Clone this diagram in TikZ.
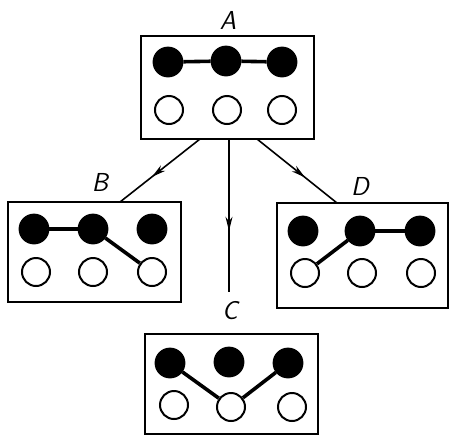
\documentclass[tikz,border=0pt]{standalone}
\usetikzlibrary{arrows.meta,decorations.markings}
\begin{document}
\begin{tikzpicture}[x=1pt,y=-1pt,
  panel/.style={draw,line width=2.2pt,rectangle,inner sep=0pt},
  full/.style={circle,draw,fill=black,line width=1.8pt,minimum size=29pt,inner sep=0pt},
  empty/.style={circle,draw,fill=white,line width=2pt,minimum size=28pt,inner sep=0pt},
  bond/.style={line width=3.6pt},
  tag/.style={font=\fontsize{26}{26}\selectfont\sffamily\itshape},
  flow/.style={line width=1.6pt,postaction={decorate},
    decoration={markings,mark=at position 0.6 with {\arrow{Stealth[length=14pt,width=7pt]}}}}]
\useasboundingbox (0,0) rectangle (452,437);
% panels
\node[panel,minimum width=173pt,minimum height=103pt] (A) at (227.5,87.5) {};
\node[panel,minimum width=173pt,minimum height=100pt] (B) at (94.5,252) {};
\node[panel,minimum width=171pt,minimum height=105pt] (D) at (362.5,255.5) {};
\node[panel,minimum width=173pt,minimum height=100pt] (C) at (231.5,384) {};
% labels
\node[tag] (lA) at (228,20) {A};
\node[tag] (lB) at (100,182) {B};
\node[tag] (lC) at (230,311) {C};
\node[tag] (lD) at (360,186) {D};
% A
\node[full] (a1) at (168,62) {};
\node[full] (a2) at (226,61) {};
\node[full] (a3) at (282,62) {};
\node[empty] (a4) at (169,110) {};
\node[empty] (a5) at (227,110) {};
\node[empty] (a6) at (282,110) {};
\draw[bond] (a1) -- (a2) -- (a3);
% B
\node[full] (b1) at (34,229) {};
\node[full] (b2) at (93,229) {};
\node[full] (b3) at (152,229) {};
\node[empty] (b4) at (36,272) {};
\node[empty] (b5) at (93,272) {};
\node[empty] (b6) at (152,272) {};
\draw[bond] (b1) -- (b2);
\draw[bond] (b2) -- (b6);
% D
\node[full] (d1) at (303,231) {};
\node[full] (d2) at (360,231) {};
\node[full] (d3) at (420,231) {};
\node[empty] (d4) at (305,273) {};
\node[empty] (d5) at (362,273) {};
\node[empty] (d6) at (421,273) {};
\draw[bond] (d4) -- (d2);
\draw[bond] (d2) -- (d3);
% C
\node[full] (c1) at (170,363) {};
\node[full] (c2) at (229,362) {};
\node[full] (c3) at (288,363) {};
\node[empty] (c4) at (174,405) {};
\node[empty] (c5) at (231,407) {};
\node[empty] (c6) at (292,407) {};
\draw[bond] (c1) -- (c5);
\draw[bond] (c3) -- (c5);
% arrows
\coordinate (sAB) at (200,139);
\coordinate (eAB) at (120,202);
\coordinate (sAC) at (229,139);
\coordinate (eAC) at (229,292);
\coordinate (sAD) at (257,139);
\coordinate (eAD) at (337,203);
\draw[flow] (sAB) -- (eAB);
\draw[flow] (sAC) -- (eAC);
\draw[flow] (sAD) -- (eAD);
\end{tikzpicture}
\end{document}
